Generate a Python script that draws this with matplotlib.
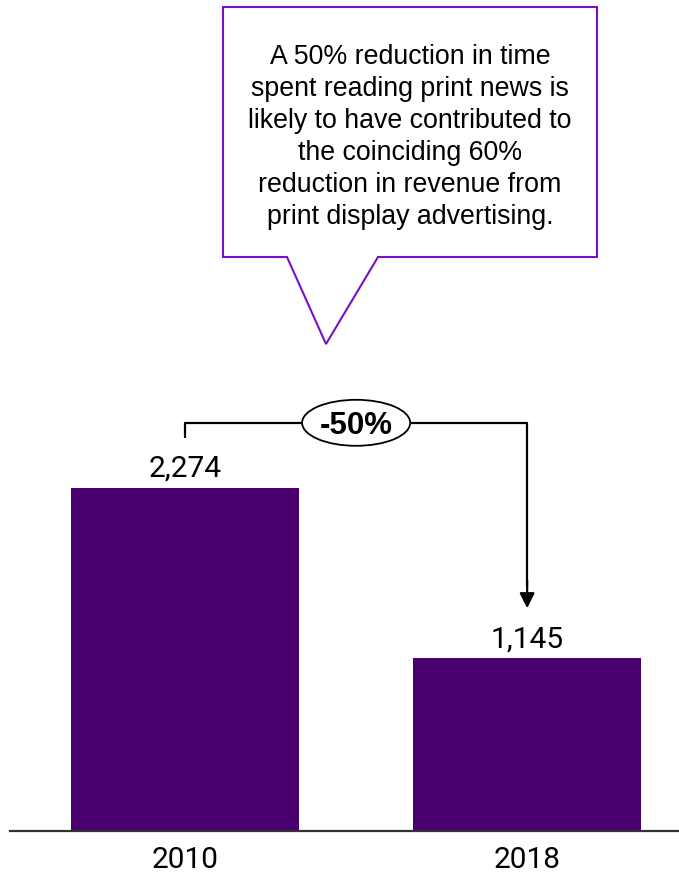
import matplotlib.pyplot as plt
from matplotlib.patches import Polygon, Ellipse

years = ["2010", "2018"]
minutes = [2274, 1145]
change_label = "-50%"
note = ("A 50% reduction in time\nspent reading print news is\nlikely to have contributed to\n"
        "the coinciding 60%\nreduction in revenue from\nprint display advertising.")

bar_color = "#48006e"
box_color = "#7a0fc8"

W, H = 679, 874
fig = plt.figure(figsize=(W / 100, H / 100), dpi=100)
ax = fig.add_axes([10 / W, 43 / H, 669 / W, 831 / H])

x = list(range(len(years)))
ax.bar(x, minutes, width=0.667, color=bar_color, zorder=2)
ax.set_xlim(-0.512, 1.444)
ax.set_ylim(0, 5509)

for side in ["left", "right", "top"]:
    ax.spines[side].set_visible(False)
ax.spines["bottom"].set_linewidth(1.6)
ax.spines["bottom"].set_color("#333333")
ax.set_yticks([])
ax.set_xticks(x)
ax.set_xticklabels(years, fontfamily="Roboto", fontsize=21.5)
ax.tick_params(axis="x", length=0, pad=11)

for xi, v in zip(x, minutes):
    ax.annotate(f"{v:,}", (xi, v), xytext=(0, 8), textcoords="offset points",
                ha="center", va="baseline", fontfamily="Roboto", fontsize=21.5)

# bracket from the first bar down to the second one
y_bracket = minutes[0] * 1.19
ax.plot([x[0], x[0], x[1], x[1]], [minutes[0] * 1.146, y_bracket, y_bracket, minutes[1] * 1.42],
        color="black", lw=1.6, zorder=3, solid_capstyle="butt")
ax.annotate("", xy=(x[1], minutes[1] * 1.29), xytext=(x[1], minutes[1] * 1.45),
            arrowprops=dict(arrowstyle="-|>,head_length=0.9,head_width=0.45",
                            color="black", lw=1.6, shrinkA=0, shrinkB=0))
mid = (x[0] + x[1]) / 2
ax.add_patch(Ellipse((mid, y_bracket), 0.316, 305, facecolor="white",
                     edgecolor="black", lw=1.3, zorder=4))
ax.text(mid, y_bracket, change_label, ha="center", va="center_baseline",
        fontfamily="Liberation Sans", fontweight="bold", fontsize=22.5, zorder=5)

# speech bubble
pts = [(223, 7), (597, 7), (597, 257), (378, 257), (326, 344), (287, 257), (223, 257)]
bubble = Polygon([(px / W, 1 - py / H) for px, py in pts], closed=True,
                 transform=fig.transFigure, facecolor="white", edgecolor=box_color,
                 lw=1.5, joinstyle="miter")
fig.patches.append(bubble)
fig.text(410 / W, 1 - 137 / H, note, ha="center", va="center", fontfamily="Liberation Sans",
         fontsize=19.3, linespacing=1.31)

fig.savefig("out.png", dpi=100)
